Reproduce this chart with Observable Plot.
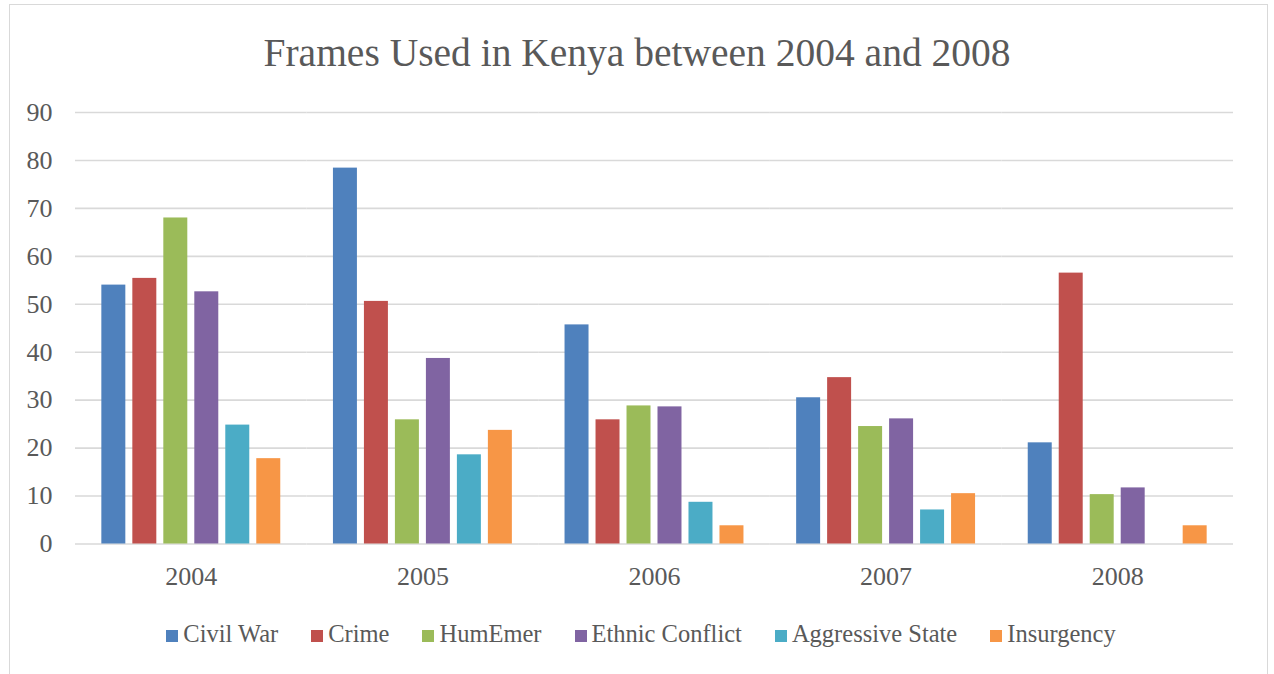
<!DOCTYPE html>
<html>
<head>
<meta charset="utf-8">
<script src="https://cdn.jsdelivr.net/npm/d3@7"></script>
<script src="https://cdn.jsdelivr.net/npm/@observablehq/plot@0.6"></script>
<style>
  body { margin: 0; background: #ffffff; font-family: "Liberation Serif", serif; }
  #wrap { position: relative; width: 1274px; height: 674px; overflow: hidden; background: #fff; }
  #frame { position: absolute; left: 9px; top: 4px; width: 1259px; height: 720px; border: 1.5px solid #d9d9d9; box-sizing: border-box; }
  #title { position: absolute; left: 0; top: 34px; width: 1274px; text-align: center; font-size: 39.5px; line-height: 39px; color: #595959; white-space: nowrap; }
  #chart { position: absolute; left: 0; top: 90px; }
  #legend { position: absolute; left: 4px; top: 622px; width: 1274px; display: flex; justify-content: center; align-items: baseline; gap: 33px; font-size: 24.5px; line-height: 23px; color: #595959; }
  .item { display: flex; align-items: baseline; gap: 5px; white-space: nowrap; }
  .sw { display: inline-block; width: 12px; height: 12px; }
</style>
</head>
<body>
<div id="wrap">
  <div id="frame"></div>
  <div id="title">Frames Used in Kenya between 2004 and 2008</div>
  <div id="chart"></div>
  <div id="legend"></div>
</div>
<script>
// ---- data ----
const years = ["2004", "2005", "2006", "2007", "2008"];
const frames = ["Civil War", "Crime", "HumEmer", "Ethnic Conflict", "Aggressive State", "Insurgency"];
const civilWar       = [54.0, 78.4, 45.7, 30.5, 21.1];
const crime          = [55.4, 50.6, 25.9, 34.7, 56.5];
const humEmer        = [68.0, 25.9, 28.8, 24.5, 10.3];
const ethnicConflict = [52.6, 38.7, 28.6, 26.1, 11.7];
const aggressiveState= [24.8, 18.6,  8.7,  7.1,  0.0];
const insurgency     = [17.8, 23.7,  3.8, 10.5,  3.8];
const yTicks = [0, 10, 20, 30, 40, 50, 60, 70, 80, 90];
const colors = ["#4F81BD", "#C0504D", "#9BBB59", "#8064A2", "#4BACC6", "#F79646"];

const seriesValues = [civilWar, crime, humEmer, ethnicConflict, aggressiveState, insurgency];
const data = years.flatMap((yr, i) =>
  frames.map((f, j) => ({ year: yr, frame: f, value: seriesValues[j][i] }))
);

const chart = Plot.plot({
  width: 1274,
  height: 520,
  marginLeft: 75,
  marginRight: 41,
  marginTop: 22,
  marginBottom: 66.5,
  style: { fontFamily: "Liberation Serif, serif", fontSize: "26px", color: "#595959", background: "transparent", overflow: "visible" },
  fx: { domain: years, padding: 0, round: false, label: null, axis: "bottom", tickSize: 0, tickPadding: 23 },
  x: { domain: frames, paddingInner: 0.226, paddingOuter: 0.85, round: false, axis: null },
  y: { domain: [0, 90], ticks: yTicks, tickSize: 0, tickPadding: 23, label: null, tickFormat: d3.format("d") },
  color: { domain: frames, range: colors },
  marks: [
    Plot.ruleY(yTicks, { stroke: "#d9d9d9", strokeWidth: 1.6 }),
    Plot.barY(data, { fx: "year", x: "frame", y: "value", fill: "frame" })
  ]
});
document.getElementById("chart").appendChild(chart);

// ---- legend ----
const legend = document.getElementById("legend");
frames.forEach((f, i) => {
  const item = document.createElement("div");
  item.className = "item";
  const sw = document.createElement("span");
  sw.className = "sw";
  sw.style.background = colors[i];
  const label = document.createElement("span");
  label.textContent = f;
  item.appendChild(sw);
  item.appendChild(label);
  legend.appendChild(item);
});
</script>
</body>
</html>
